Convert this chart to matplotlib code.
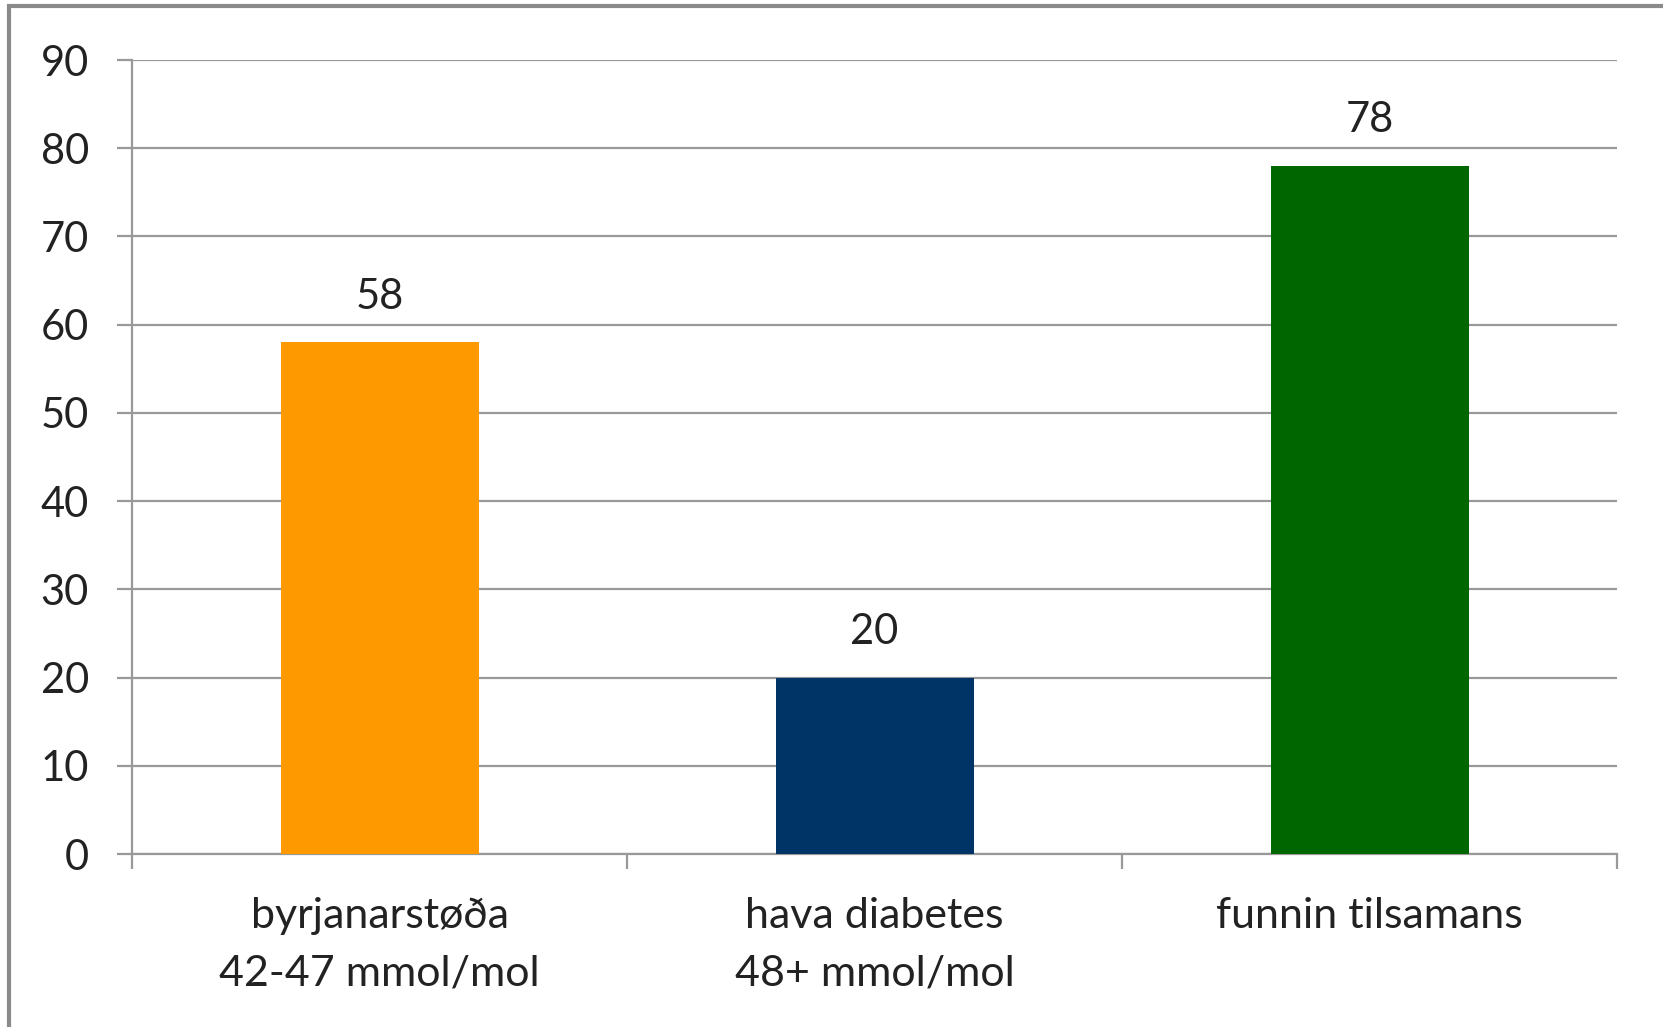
import matplotlib
matplotlib.use("Agg")
import matplotlib.pyplot as plt
from matplotlib.patches import Rectangle

categories = ["byrjanarstøða\n42-47 mmol/mol", "hava diabetes\n48+ mmol/mol", "funnin tilsamans"]
values = [58, 20, 78]
bar_colors = ["#FF9900", "#003366", "#006600"]
y_ticks = [0, 10, 20, 30, 40, 50, 60, 70, 80, 90]

plt.rcParams["font.family"] = ["Lato", "DejaVu Sans"]

W, H, DPI = 1663, 1027, 100
fig = plt.figure(figsize=(W / DPI, H / DPI), dpi=DPI)
fig.patch.set_facecolor("white")

# outer frame (left and top edges visible)
fig.add_artist(Rectangle((9 / W, -0.05), 1.2, (H - 6) / H + 0.05, transform=fig.transFigure,
                         fill=False, edgecolor="#8a8a8a", linewidth=3))

left, right, top, bottom = 132, 1617, 60, 854
ax = fig.add_axes([left / W, 1 - bottom / H, (right - left) / W, (bottom - top) / H])

x = range(len(categories))
ax.bar(x, values, width=0.4, color=bar_colors, zorder=3)
ax.set_xlim(-0.5, len(categories) - 0.5)
ax.set_ylim(0, 90)
ax.set_yticks(y_ticks)
ax.set_yticklabels([str(t) for t in y_ticks])

grid_c = "#999999"
ax.yaxis.grid(True, color=grid_c, linewidth=1.6, zorder=0)
ax.set_axisbelow(True)
for s in ["top", "right"]:
    ax.spines[s].set_visible(False)
for s in ["left", "bottom"]:
    ax.spines[s].set_color(grid_c)
    ax.spines[s].set_linewidth(1.6)

ax.tick_params(axis="y", length=11, width=1.6, color=grid_c, pad=20,
               labelsize=30, labelcolor="#222222")
ax.set_xticks([i + 0.5 for i in range(len(categories))][:-1] + [-0.5, len(categories) - 0.5])
ax.set_xticklabels([""] * (len(categories) + 1))
ax.tick_params(axis="x", length=11, width=1.6, color=grid_c, direction="out")

for i, c in enumerate(categories):
    ax.text(i, -4.9, c, ha="center", va="top", fontsize=31, color="#222222",
            linespacing=1.62)

for i, v in enumerate(values):
    ax.text(i, v + 3.0, str(v), ha="center", va="bottom", fontsize=30, color="#222222")

fig.savefig("out.png", dpi=DPI, facecolor="white")
